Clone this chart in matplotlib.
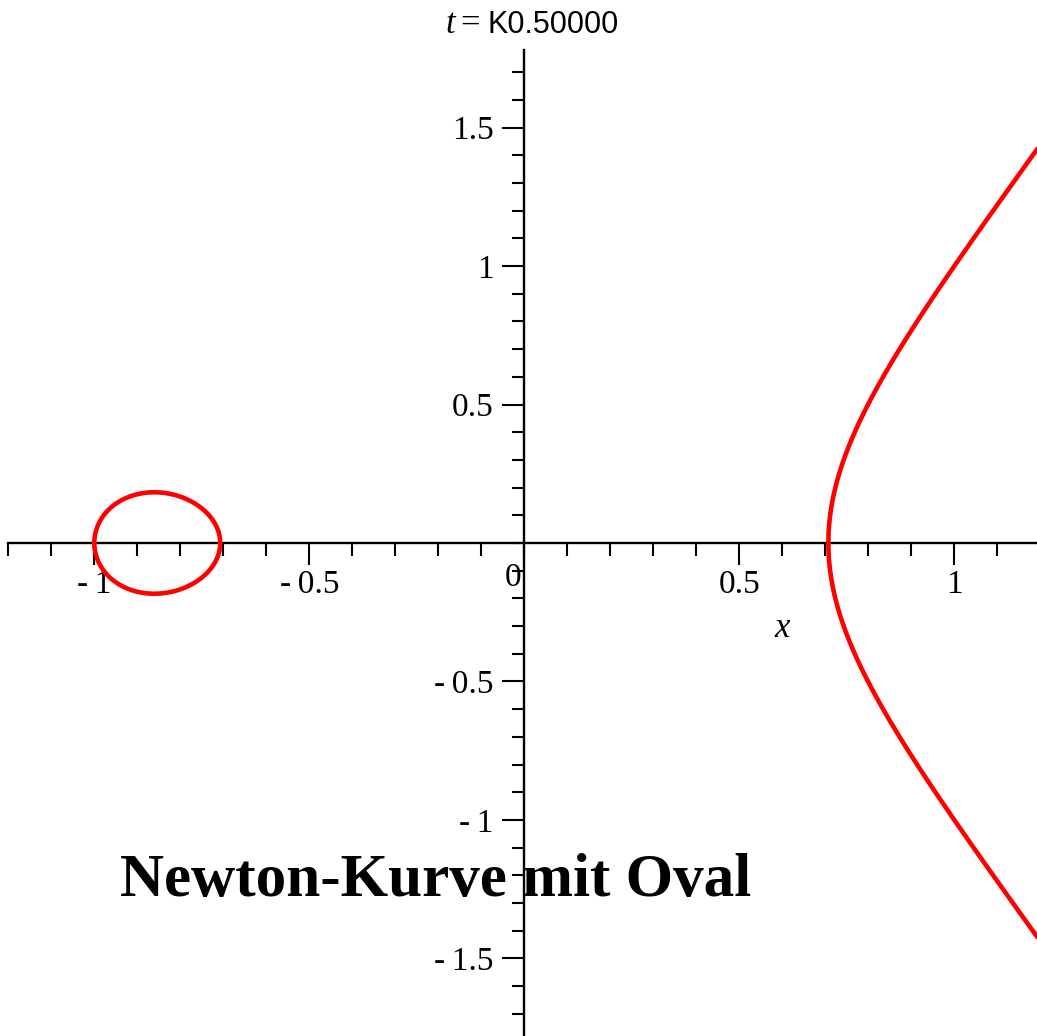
import numpy as np
import matplotlib
matplotlib.use("Agg")
import matplotlib.pyplot as plt
from matplotlib.ticker import FixedLocator, FixedFormatter, MultipleLocator

# ---- data -------------------------------------------------------------
t_value = -0.5                       # curve parameter shown in the title
title_value_text = "K0.50000"        # as rendered in the reference
x_range = [-1.2, 1.2]
y_range = [-1.78, 1.78]
x_major_ticks = [-1.0, -0.5, 0.5, 1.0]
x_tick_labels = ["-\u20091", "-\u20090.5", "0.5", "1"]
y_major_ticks = [-1.5, -1.0, -0.5, 0.5, 1.0, 1.5]
y_tick_labels = ["-\u20091.5", "-\u20091", "-\u20090.5", "0.5", "1", "1.5"]
caption = "Newton-Kurve mit Oval"
x_axis_label = "x"

# Newton curve: y^2 = (x + 1)(x^2 + t)
def curve_y2(x, t):
    return (x + 1.0) * (x ** 2 + t)

r_left = -1.0
r_mid = -np.sqrt(-t_value)
r_right = np.sqrt(-t_value)

# ---- figure -----------------------------------------------------------
W, H = 1037, 1036
fig = plt.figure(figsize=(W / 100, H / 100), dpi=100)
ax = fig.add_axes([8.3 / W, 0.0, 1032 / W, 986 / H])
ax.set_xlim(*x_range)
ax.set_ylim(*y_range)

red = "#ff0000"
lw = 3.3
# oval (closed)
xo = np.linspace(r_left, r_mid, 600)
yo = np.sqrt(np.clip(curve_y2(xo, t_value), 0, None))
ax.plot(np.concatenate([xo, xo[::-1]]), np.concatenate([yo, -yo[::-1]]),
        color=red, lw=lw, solid_capstyle="butt")
# right branch
xb = np.linspace(r_right, x_range[1], 800)
yb = np.sqrt(np.clip(curve_y2(xb, t_value), 0, None))
ax.plot(xb, yb, color=red, lw=lw, solid_capstyle="butt")
ax.plot(xb, -yb, color=red, lw=lw, solid_capstyle="butt")

# axes through origin
for s in ["top", "right"]:
    ax.spines[s].set_visible(False)
ax.spines["left"].set_position(("data", 0))
ax.spines["bottom"].set_position(("data", 0))
for s in ["left", "bottom"]:
    ax.spines[s].set_linewidth(1.7)
    ax.spines[s].set_zorder(1)

serif = "Liberation Serif"
ax.xaxis.set_major_locator(FixedLocator(x_major_ticks))
ax.xaxis.set_major_formatter(FixedFormatter(x_tick_labels))
ax.yaxis.set_major_locator(FixedLocator(y_major_ticks))
ax.yaxis.set_major_formatter(FixedFormatter(y_tick_labels))
ax.xaxis.set_minor_locator(MultipleLocator(0.1))
ax.yaxis.set_minor_locator(MultipleLocator(0.1))
ax.tick_params(which="major", length=16, width=1.5, direction="out",
               labelsize=24)
ax.tick_params(axis="x", which="major", pad=3)
ax.tick_params(axis="y", which="major", pad=6)
ax.tick_params(which="minor", length=9, width=1.5, direction="out")
for lab in ax.get_xticklabels() + ax.get_yticklabels():
    lab.set_fontfamily(serif)

# origin label
ax.text(-0.027, -0.07, "0", fontfamily=serif, fontsize=24,
        ha="center", va="top")
# x axis label
ax.text(0.60, -0.31, x_axis_label, fontfamily=serif, fontstyle="italic",
        fontsize=25, ha="center", va="center")
# caption
ax.text(-0.94, -1.275, caption, fontfamily=serif, fontweight="bold",
        fontsize=44, ha="left", va="baseline", zorder=5)

# title pieces (pixel positions)
def fx(px):
    return px / W

def fy(py):
    return 1 - py / H

fig.text(fx(445), fy(33), "t", fontfamily=serif, fontstyle="italic",
         fontsize=25, ha="left", va="baseline")
fig.text(fx(460), fy(33), "=", fontfamily=serif, fontsize=25,
         ha="left", va="baseline")
fig.text(fx(487), fy(33), title_value_text, fontfamily="Liberation Sans",
         fontsize=22, ha="left", va="baseline")

fig.savefig("out.png", dpi=100, facecolor="white")
